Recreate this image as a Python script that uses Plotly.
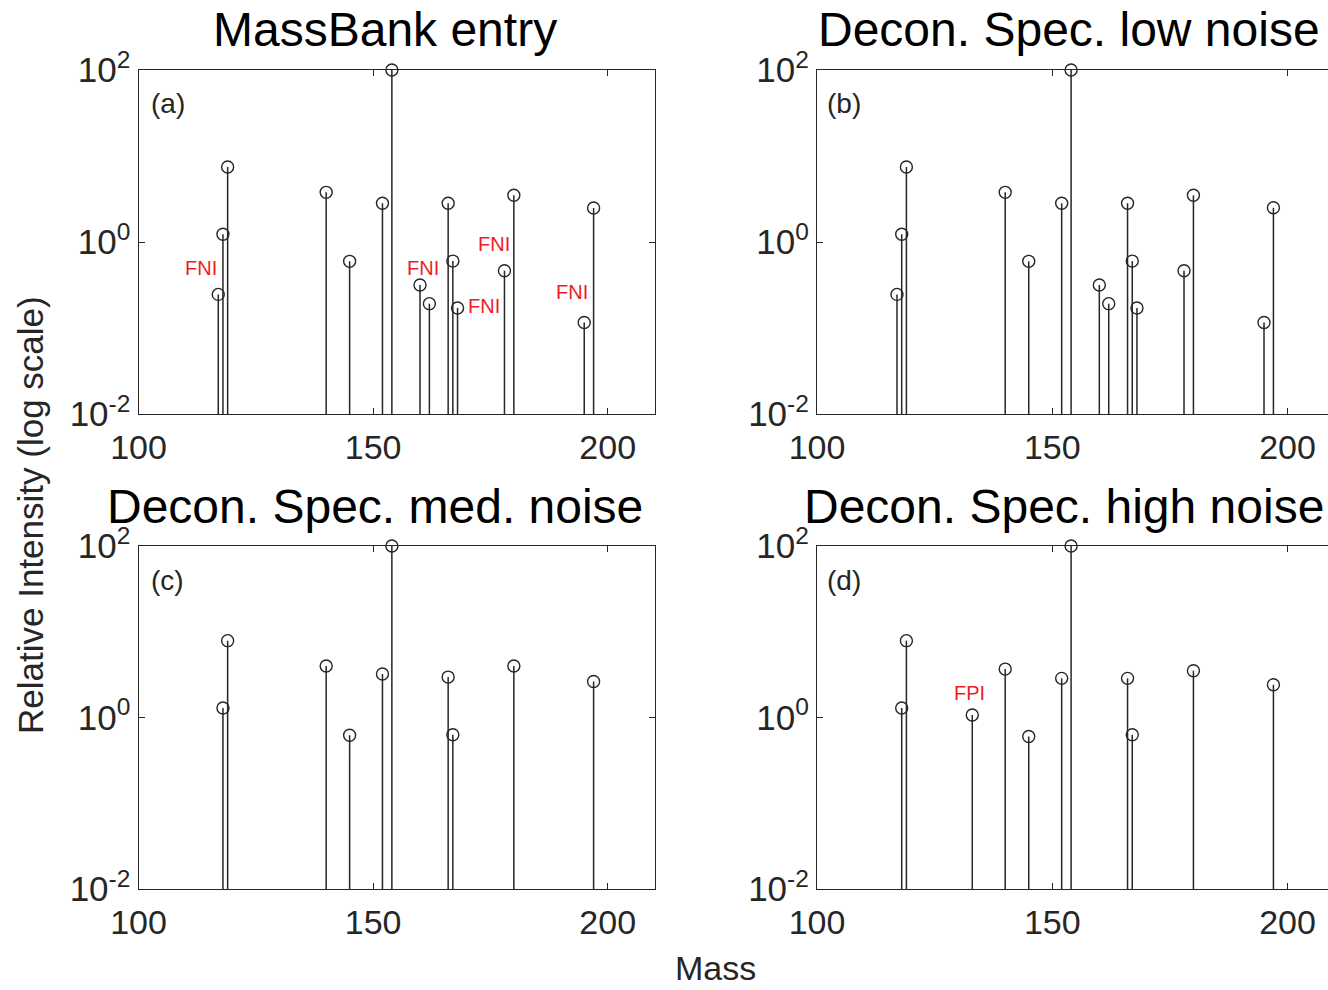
import math
import plotly.graph_objects as go

# ---------------- data ----------------
mass_a = [117, 118, 119, 140, 145, 152, 154, 160, 162, 166, 167, 168, 178, 180, 195, 197]
int_a = [0.246, 1.23, 7.45, 3.78, 0.596, 2.82, 100, 0.316, 0.192, 2.82, 0.60, 0.171, 0.464, 3.49, 0.116, 2.49]

mass_b = [117, 118, 119, 140, 145, 152, 154, 160, 162, 166, 167, 168, 178, 180, 195, 197]
int_b = [0.246, 1.23, 7.45, 3.78, 0.596, 2.82, 100, 0.316, 0.192, 2.82, 0.60, 0.171, 0.464, 3.49, 0.116, 2.50]

mass_c = [118, 119, 140, 145, 152, 154, 166, 167, 180, 197]
int_c = [1.29, 7.87, 3.98, 0.622, 3.21, 100, 2.96, 0.63, 3.98, 2.63]

mass_d = [118, 119, 133, 140, 145, 152, 154, 166, 167, 180, 197]
int_d = [1.29, 7.87, 1.07, 3.67, 0.60, 2.86, 100, 2.86, 0.63, 3.51, 2.41]

titles = ["MassBank entry", "Decon. Spec. low noise", "Decon. Spec. med. noise", "Decon. Spec. high noise"]
panel_tags = ["(a)", "(b)", "(c)", "(d)"]

# annotation labels (mass, intensity)
fni_mass_a = [113.3, 160.6, 175.8, 173.7, 192.4]
fni_int_a = [0.494, 0.494, 0.94, 0.18, 0.264]
fpi_mass_d = [132.4]
fpi_int_d = [1.92]

xtick_vals = [100, 150, 200]
xtick_text = ["100", "150", "200"]
ytick_vals = [0.01, 1, 100]
ytick_text = ["10<sup>-2</sup>", "10<sup>0</sup>", "10<sup>2</sup>"]

# ---------------- layout geometry ----------------
W, H = 1328, 990
FONT = "Liberation Sans, Arial, Helvetica, sans-serif"
INK = "#262626"

x_dom_left = [138.5 / W, 654.6 / W]
x_dom_right = [817 / W, 1.0]
y_dom_top = [1 - 414 / H, 1 - 70 / H]
y_dom_bot = [1 - 889 / H, 1 - 546 / H]

panels = [
    (mass_a, int_a, x_dom_left, y_dom_top, [100, 210], True),
    (mass_b, int_b, x_dom_right, y_dom_top, [100, 208.6], False),
    (mass_c, int_c, x_dom_left, y_dom_bot, [100, 210], True),
    (mass_d, int_d, x_dom_right, y_dom_bot, [100, 208.6], False),
]

fig = go.Figure()
baseline = ytick_vals[0]

for i, (ms, vs, xd, yd, xr, right_frame) in enumerate(panels):
    n = i + 1
    xa = "x" if n == 1 else f"x{n}"
    ya = "y" if n == 1 else f"y{n}"
    sx, sy = [], []
    for m, v in zip(ms, vs):
        sx += [m, m, None]
        sy += [baseline, v, None]
    fig.add_trace(go.Scatter(x=sx, y=sy, mode="lines", xaxis=xa, yaxis=ya,
                             line=dict(color=INK, width=1.5), hoverinfo="skip",
                             showlegend=False, cliponaxis=False))
    fig.add_trace(go.Scatter(x=ms, y=vs, mode="markers", xaxis=xa, yaxis=ya,
                             marker=dict(symbol="circle-open", size=12, color=INK,
                                         line=dict(color=INK, width=1.4)),
                             showlegend=False, cliponaxis=False))
    xkey = "xaxis" if n == 1 else f"xaxis{n}"
    ykey = "yaxis" if n == 1 else f"yaxis{n}"
    fig.update_layout(**{
        xkey: dict(domain=xd, anchor=ya, range=xr, tickvals=xtick_vals, ticktext=xtick_text,
                   ticks="inside", ticklen=6, tickcolor=INK, showline=True, linecolor=INK,
                   linewidth=1.2, mirror="ticks", showgrid=False, zeroline=False,
                   automargin=False,
                   tickfont=dict(family=FONT, size=34, color=INK), ticklabelstandoff=3),
        ykey: dict(domain=yd, anchor=xa, type="log", range=[-2, 2], tickvals=ytick_vals,
                   ticktext=ytick_text, ticks="inside", ticklen=6, tickcolor=INK,
                   showline=True, linecolor=INK, linewidth=1.2,
                   mirror="ticks" if right_frame else False, showgrid=False, zeroline=False,
                   automargin=False,
                   tickfont=dict(family=FONT, size=35, color=INK), ticklabelstandoff=0),
    })

annotations = []
# titles
title_pos = [(385, 30), (1069, 30), (375, 507), (1064, 507)]
for t, (px, py) in zip(titles, title_pos):
    annotations.append(dict(text=t, x=px / W, y=1 - py / H, xref="paper", yref="paper",
                            showarrow=False, xanchor="center", yanchor="middle",
                            font=dict(family=FONT, size=48, color="black")))
# panel tags
tag_pos = [(149, 103), (825, 103), (149, 580), (825, 580)]
for t, (px, py) in zip(panel_tags, tag_pos):
    annotations.append(dict(text=t, x=px / W, y=1 - py / H, xref="paper", yref="paper",
                            showarrow=False, xanchor="left", yanchor="middle",
                            font=dict(family=FONT, size=28, color=INK)))
# FNI / FPI labels
for m, v in zip(fni_mass_a, fni_int_a):
    annotations.append(dict(text="FNI", x=m, y=math.log10(v), xref="x", yref="y",
                            showarrow=False, xanchor="center", yanchor="middle",
                            font=dict(family=FONT, size=20, color="#ee1c25")))
for m, v in zip(fpi_mass_d, fpi_int_d):
    annotations.append(dict(text="FPI", x=m, y=math.log10(v), xref="x4", yref="y4",
                            showarrow=False, xanchor="center", yanchor="middle",
                            font=dict(family=FONT, size=20, color="#ee1c25")))
# axis labels
annotations.append(dict(text="Relative Intensity (log scale)", x=30 / W, y=1 - 515 / H,
                        xref="paper", yref="paper", showarrow=False, textangle=-90,
                        xanchor="center", yanchor="middle",
                        font=dict(family=FONT, size=35, color=INK)))
annotations.append(dict(text="Mass", x=715 / W, y=1 - 968 / H, xref="paper", yref="paper",
                        showarrow=False, xanchor="center", yanchor="middle",
                        font=dict(family=FONT, size=34, color=INK)))

fig.update_layout(width=W, height=H, margin=dict(l=0, r=0, t=0, b=0, autoexpand=False),
                  paper_bgcolor="white", plot_bgcolor="white",
                  annotations=annotations, showlegend=False)

# remove the browser's default 8px page margin so the figure sits at the page origin
fig.write_html("out.html",
               config={"displayModeBar": False},
               post_script="document.body.style.margin='0px';document.body.style.overflow='hidden';")
